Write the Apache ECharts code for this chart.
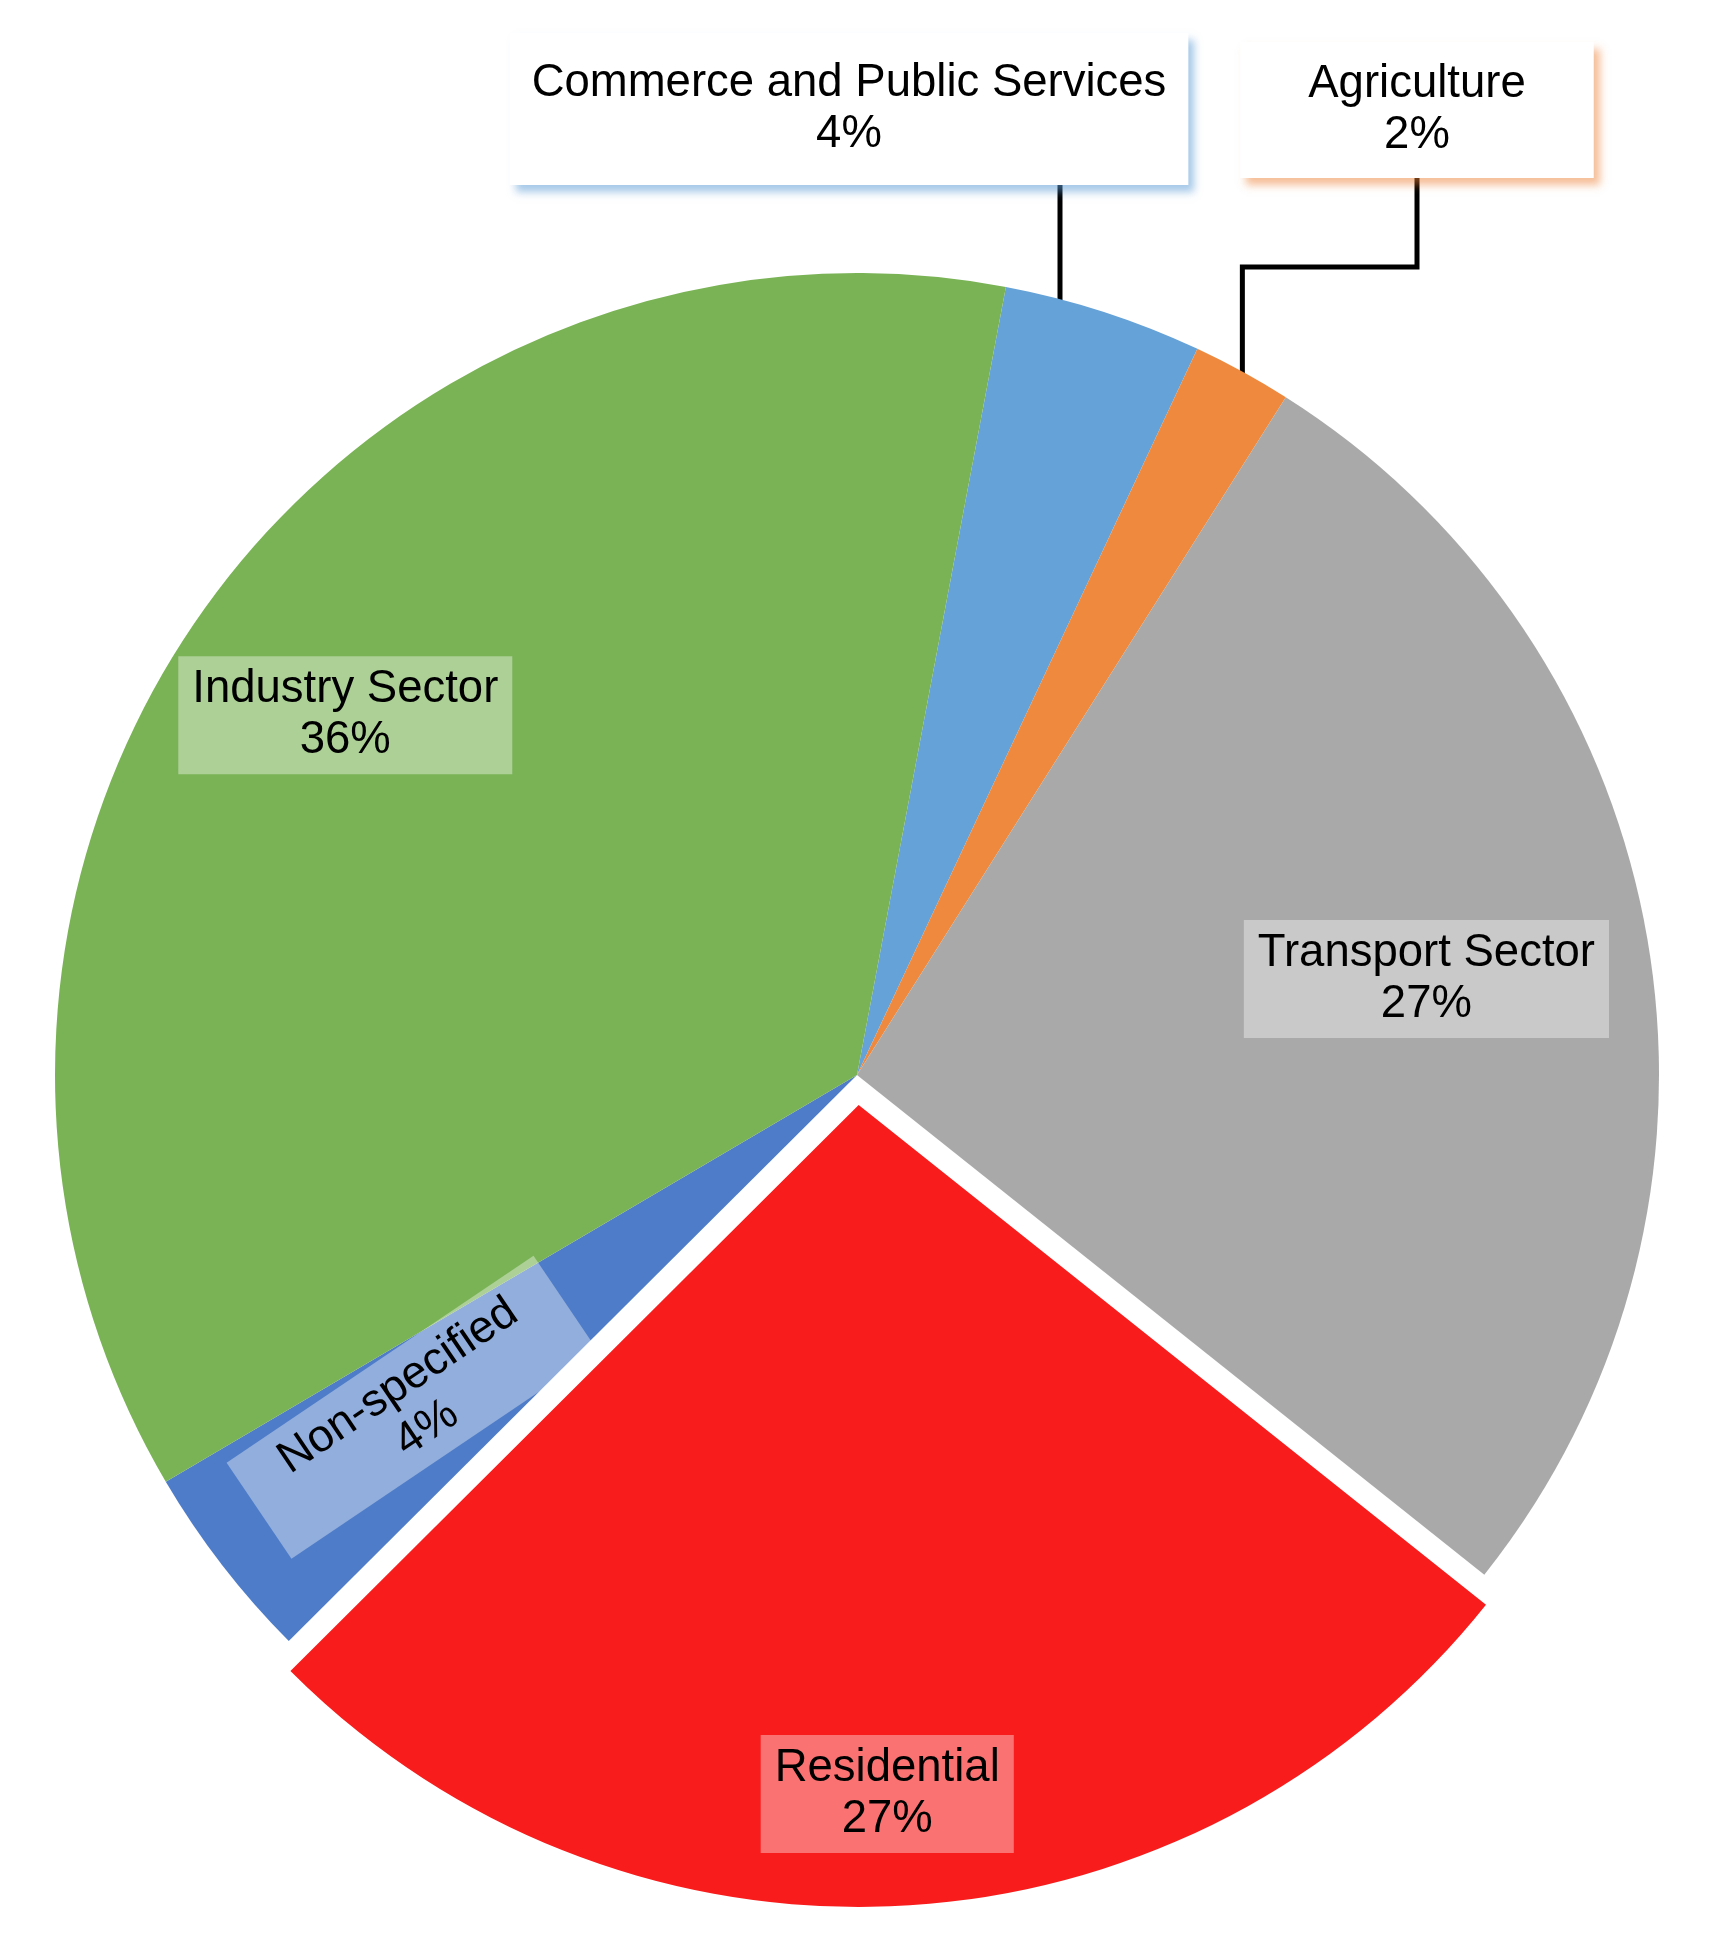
<!DOCTYPE html>
<html><head><meta charset="utf-8">
<script src="https://cdn.jsdelivr.net/npm/echarts@6/dist/echarts.min.js"></script>
<style>html,body{margin:0;padding:0;background:#fff}#c{width:1726px;height:1949px}</style>
</head><body><div id="c"></div>
<script>
// ---- data ----
const categories = ['Commerce and Public Services', 'Agriculture', 'Transport Sector', 'Residential', 'Non-specified', 'Industry Sector'];
const values = [4.0, 2.0, 26.7, 26.8, 4.0, 36.4];
const colors = ['#65A2D7', '#EE893D', '#A9A9A9', '#F81C1C', '#4E7CC8', '#7AB356'];
const explodedName = 'Residential';

// ---- layout ----
const CX = 857, CY = 1075, R = 802, EXPLODE = 30, START_FROM_TOP = 10.7;
const insideLabelRadius = { 2: 0.72, 3: 0.86, 4: 0.692, 5: 0.78 };
const insideLabelAngleShift = { 2: 0, 3: 0.8, 4: 0.9, 5: 0 };
const total = values.reduce((a, b) => a + b, 0);
const explodedIndex = categories.indexOf(explodedName);
function midDeg(i) { let s = 0; for (let k = 0; k < i; k++) s += values[k]; return START_FROM_TOP + (s + values[i] / 2) / total * 360; }
function polar(cx, cy, r, deg) { const a = deg * Math.PI / 180; return [cx + r * Math.sin(a), cy - r * Math.cos(a)]; }
const explodeShift = polar(0, 0, EXPLODE, midDeg(explodedIndex));

const FONT = 'Liberation Sans, Arial, sans-serif';
const chart = echarts.init(document.getElementById('c'), null, { renderer: 'canvas' });
const LEADER = { show: true, lineStyle: { color: '#000', width: 5, opacity: 1 } };

function makeData(forExploded) {
  return categories.map((name, i) => {
    const item = { name, value: values[i], itemStyle: { color: colors[i] } };
    const isExp = i === explodedIndex;
    if (isExp !== forExploded) {
      item.itemStyle = { color: 'rgba(0,0,0,0)' };
      item.label = { show: false };
      item.labelLine = { show: false };
      return item;
    }
    if (i === 0) {
      item.label = { position: 'outside', backgroundColor: '#fff', padding: [22, 22, 28, 22],
        shadowColor: 'rgba(91,155,213,0.55)', shadowBlur: 8, shadowOffsetX: 6, shadowOffsetY: 7 };
      item.labelLine = LEADER;
    } else if (i === 1) {
      item.label = { position: 'outside', backgroundColor: '#fff', padding: [17, 68],
        shadowColor: 'rgba(237,125,49,0.5)', shadowBlur: 8, shadowOffsetX: 6, shadowOffsetY: 7 };
      item.labelLine = LEADER;
    } else if (i === 4) {
      item.label = { padding: [7, 46] };
    }
    return item;
  });
}

function labelLayout(p) {
  const i = p.dataIndex;
  if (i === 0) {
    const lx = 849, ly = 109, lineX = 1060, boxBottom = 184;
    const edgeY = CY - Math.sqrt(R * R - (lineX - CX) * (lineX - CX));
    return { x: lx, y: ly, align: 'center', verticalAlign: 'middle',
      labelLinePoints: [[lineX, edgeY + 4], [lineX, boxBottom]] };
  }
  if (i === 1) {
    const lx = 1417, ly = 110, elbowY = 267, boxBottom = 178;
    const e = polar(CX, CY, R, midDeg(1));
    return { x: lx, y: ly, align: 'center', verticalAlign: 'middle',
      labelLinePoints: [[e[0], e[1] + 2], [e[0], elbowY], [lx, elbowY], [lx, boxBottom]] };
  }
  const m = midDeg(i) + insideLabelAngleShift[i];
  let cx = CX, cy = CY;
  if (i === explodedIndex) { cx += explodeShift[0]; cy += explodeShift[1]; }
  const pt = polar(cx, cy, R * insideLabelRadius[i], m);
  const res = { x: pt[0], y: pt[1], align: 'center', verticalAlign: 'middle' };
  if (i === 4) res.rotate = 34;
  return res;
}

const common = {
  type: 'pie',
  radius: R,
  startAngle: 90 - START_FROM_TOP,
  clockwise: true,
  avoidLabelOverlap: false,
  percentPrecision: 0,
  silent: true,
  itemStyle: { borderWidth: 0 },
  emphasis: { scale: false },
  label: {
    show: true, position: 'inside', formatter: '{b}\n{d}%',
    fontFamily: FONT, fontSize: 45.5, lineHeight: 51, color: '#000',
    backgroundColor: 'rgba(255,255,255,0.38)', padding: [8, 14]
  },
  labelLine: { show: false, lineStyle: { color: '#000', width: 5 } },
  labelLayout: labelLayout
};

chart.setOption({
  backgroundColor: '#fff',
  animation: false,
  series: [
    Object.assign({}, common, { center: [CX, CY], data: makeData(false) }),
    Object.assign({}, common, { center: [CX + explodeShift[0], CY + explodeShift[1]], data: makeData(true) })
  ]
});
</script></body></html>
